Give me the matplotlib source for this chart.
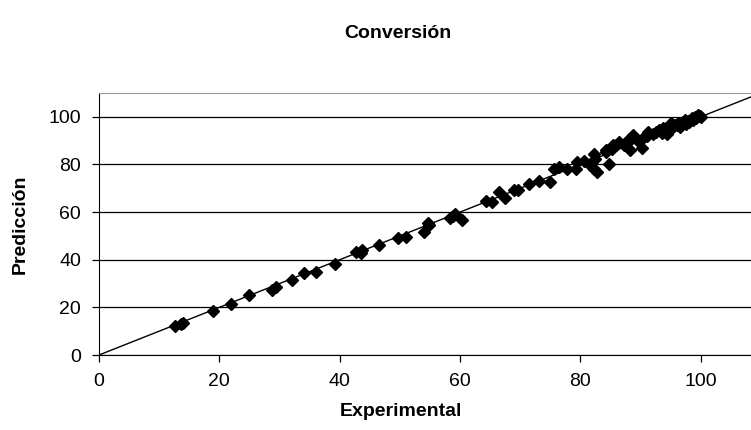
import matplotlib.pyplot as plt

plt.rcParams['font.family'] = ['Liberation Sans', 'DejaVu Sans']

# experimental vs predicted conversion
experimental = [12.6, 14.0, 13.6, 18.9, 21.9, 24.9, 28.7, 29.4, 32.0, 34.0,
                36.1, 39.3, 42.7, 43.5, 43.7, 46.6, 49.7, 51.0, 54.0, 54.6,
                54.9, 58.3, 59.2, 58.8, 60.3, 64.4, 65.3, 66.4, 67.5, 68.9,
                69.6, 71.4, 73.2, 75.0, 75.6, 76.5, 77.8, 79.3, 79.4, 80.6,
                81.6, 82.3, 82.2, 82.7, 82.4, 84.8, 84.3, 85.2, 86.0, 84.3,
                85.5, 86.5, 88.2, 88.7, 88.1, 90.2, 89.4, 91.3, 92.1, 93.0,
                93.8, 94.4, 95.0, 95.6, 96.3, 96.8, 97.4, 97.9, 98.5, 99.0,
                99.6, 99.9, 90.5, 92.6, 94.0, 95.3, 96.0, 97.0, 98.0, 98.8,
                99.3, 100.0, 97.5, 96.5, 93.5, 91.0, 87.3, 87.8]
prediccion = [12.2, 13.6, 13.0, 18.3, 21.5, 25.1, 27.2, 28.4, 31.4, 34.5,
              34.9, 38.0, 43.2, 43.0, 43.9, 46.2, 49.3, 49.7, 51.7, 55.6,
              54.5, 57.5, 59.1, 58.3, 56.7, 64.5, 64.3, 68.3, 65.8, 69.4,
              69.4, 71.8, 73.2, 72.8, 78.2, 78.9, 78.2, 78.2, 80.9, 81.4,
              79.6, 84.5, 78.2, 76.7, 82.4, 80.0, 85.2, 86.6, 88.0, 85.9,
              88.0, 89.4, 85.9, 92.2, 90.5, 86.9, 90.1, 93.6, 92.9, 94.3,
              95.1, 92.9, 97.2, 96.4, 97.6, 96.7, 98.6, 98.1, 99.3, 100.0,
              100.7, 100.2, 91.5, 93.5, 94.8, 95.5, 96.5, 97.8, 97.9, 98.6,
              99.5, 100.0, 96.9, 95.8, 93.0, 91.8, 88.0, 89.0]
ideal = [0, 120]
ticks = [0, 20, 40, 60, 80, 100]

fig = plt.figure(figsize=(7.51, 4.30), dpi=100)
# plot area runs past the right edge of the picture (cropped like the original)
ax = fig.add_axes([99 / 751, 1 - 355 / 430, 722 / 751, 262 / 430])

ax.set_axisbelow(True)
ax.grid(axis='y', color='black', linewidth=0.9)
ax.plot(ideal, ideal, color='black', linewidth=1.0, zorder=2)
ax.plot(experimental, prediccion, linestyle='none', marker='D',
        markersize=6, color='black', zorder=3, clip_on=False)

ax.set_xlim(0, 120)
ax.set_ylim(0, 110)
ax.set_xticks(ticks)
ax.set_yticks(ticks)
ax.tick_params(labelsize=14, length=5, width=0.9, color='black', pad=8)

ax.spines['left'].set_color('black')
ax.spines['bottom'].set_color('black')
ax.spines['top'].set_color('#999999')
ax.spines['right'].set_visible(False)

fig.text(398 / 751, 1 - 34 / 430, 'Conversión', ha='center', va='center',
         fontsize=14, fontweight='bold')
fig.text(401 / 751, 1 - 412 / 430, 'Experimental', ha='center', va='center',
         fontsize=14, fontweight='bold')
fig.text(20 / 751, 1 - 224 / 430, 'Predicción', ha='center', va='center',
         fontsize=14, fontweight='bold', rotation=90)

fig.savefig('out.png', dpi=100)
